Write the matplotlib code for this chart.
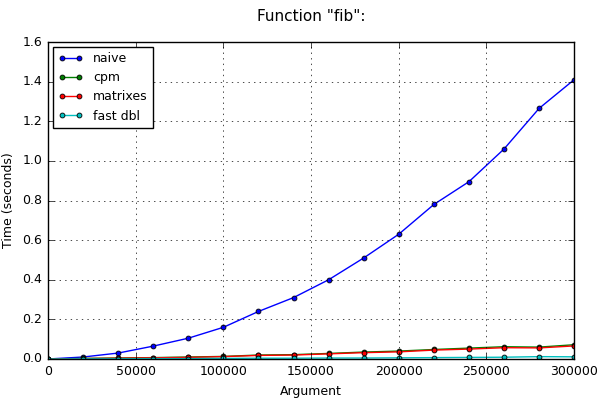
import numpy as np
import matplotlib
matplotlib.use("Agg")
import matplotlib.pyplot as plt

# argument values and timings (seconds)
args = [0, 20000, 40000, 60000, 80000, 100000, 120000, 140000, 160000,
        180000, 200000, 220000, 240000, 260000, 280000, 300000]
naive = [0, 0.01, 0.03, 0.065, 0.105, 0.16, 0.24, 0.31, 0.40,
         0.51, 0.63, 0.78, 0.895, 1.06, 1.265, 1.41]
cpm = [0, 0.003, 0.005, 0.007, 0.01, 0.013, 0.02, 0.022, 0.028,
       0.035, 0.04, 0.048, 0.055, 0.062, 0.06, 0.072]
matrixes = [0, 0.002, 0.004, 0.006, 0.008, 0.012, 0.018, 0.02, 0.026,
            0.032, 0.036, 0.045, 0.05, 0.057, 0.056, 0.066]
fast_dbl = [0, 0.001, 0.001, 0.002, 0.002, 0.003, 0.004, 0.004, 0.005,
            0.005, 0.006, 0.007, 0.008, 0.009, 0.012, 0.011]

plt.style.use('classic')
plt.rcParams['font.size'] = 9

fig = plt.figure(figsize=(6, 4), dpi=100, facecolor='white')
ax = fig.add_axes([0.08, 0.1025, 0.877, 0.7925])

series = [("naive", naive, 'b'), ("cpm", cpm, 'g'),
          ("matrixes", matrixes, 'r'), ("fast dbl", fast_dbl, 'c')]
for name, vals, col in series:
    ax.plot(args, vals, color=col, marker='o', markersize=3.5,
            markeredgecolor='k', markeredgewidth=0.6, linewidth=1, label=name)

ax.set_xlim(0, 300000)
ax.set_ylim(0, 1.6)
ax.grid(True)
ax.set_xlabel("Argument")
ax.set_ylabel("Time (seconds)")
ax.set_title('Function "fib":', fontsize=11, y=1.045)
ax.legend(loc='upper left', fontsize=9, borderaxespad=0.4)

fig.savefig("out.png", dpi=100, facecolor='white')
